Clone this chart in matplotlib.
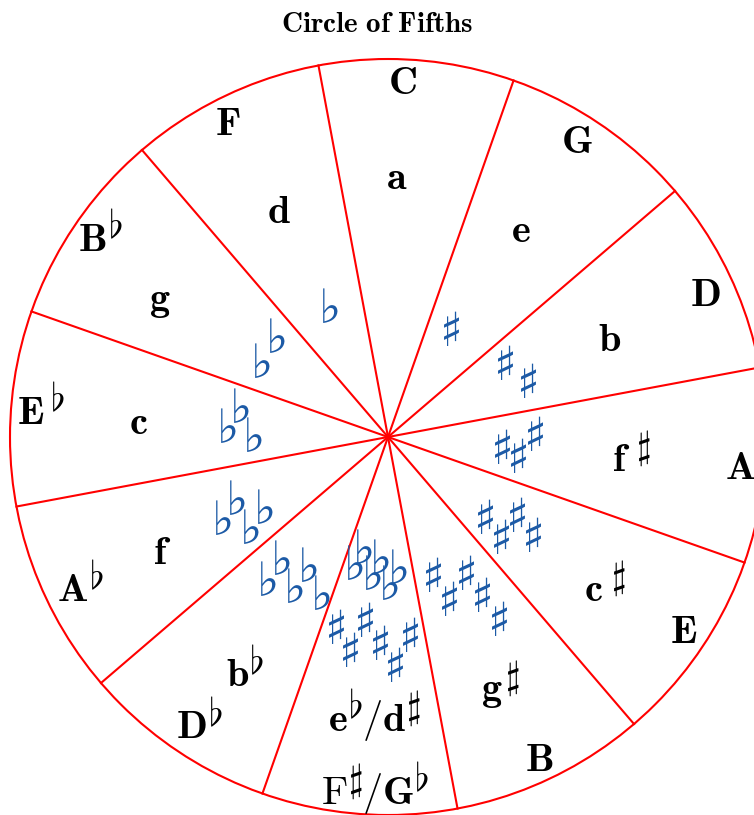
import numpy as np
import matplotlib
matplotlib.use('Agg')
import matplotlib.pyplot as plt
from matplotlib.patches import Circle

plt.rcParams['mathtext.fontset'] = 'cm'

# --- data ---
# each key name: list of (text, kind); kind 'n' = letter, 'a' = raised accidental
FL, SH = r'$\flat$', r'$\sharp$'
majors = [[(r'$\mathbf{C}$', 'n')], [(r'$\mathbf{G}$', 'n')], [(r'$\mathbf{D}$', 'n')],
          [(r'$\mathbf{A}$', 'n')], [(r'$\mathbf{E}$', 'n')], [(r'$\mathbf{B}$', 'n')],
          [(r'$\mathrm{F}$', 'n'), (SH, 'a'), (r'$\mathbf{/G}$', 'n'), (FL, 'a')],
          [(r'$\mathbf{D}$', 'n'), (FL, 'a')], [(r'$\mathbf{A}$', 'n'), (FL, 'a')],
          [(r'$\mathbf{E}$', 'n'), (FL, 'a')], [(r'$\mathbf{B}$', 'n'), (FL, 'a')],
          [(r'$\mathbf{F}$', 'n')]]
minors = [[(r'$\mathbf{a}$', 'n')], [(r'$\mathbf{e}$', 'n')], [(r'$\mathbf{b}$', 'n')],
          [(r'$\mathbf{f}$', 'n'), (SH, 'a')], [(r'$\mathbf{c}$', 'n'), (SH, 'a')],
          [(r'$\mathbf{g}$', 'n'), (SH, 'a')],
          [(r'$\mathbf{e}$', 'n'), (FL, 'a'), (r'$\mathbf{/d}$', 'n'), (SH, 'a')],
          [(r'$\mathbf{b}$', 'n'), (FL, 'a')], [(r'$\mathbf{f}$', 'n')],
          [(r'$\mathbf{c}$', 'n')], [(r'$\mathbf{g}$', 'n')], [(r'$\mathbf{d}$', 'n')]]
n_sharps = [0, 1, 2, 3, 4, 5, 6, 0, 0, 0, 0, 0]
n_flats = [0, 0, 0, 0, 0, 0, 6, 5, 4, 3, 2, 1]

# key-signature staff steps (order of sharps F C G D A E, flats B E A D G C)
sharp_steps = [0, -3, 1, -2, -5, -1]
flat_steps = [0, 3, -1, 2, -2, 1]

# --- layout (pixels) ---
W, H = 754, 815
cx, cy, R = 388, 437, 378
line_offset = 100.6

major_ang = [87.6, 57.3, 24.1, -5.0, -33.5, -64.9, -92.1, -123.0, -153.6, 176.0, 145.6, 117.1]
major_rad = [354, 350, 348, 354, 354, 357, 356, 346, 344, 348, 349, 352]
major_gap = [0, 0, 0, 0, 0, 0, 0, 1, 1, 6, 2, 0]
minor_ang = [88.0, 57.1, 23.6, -5.4, -35.2, -66.1, -92.8, -121.0, -152.8, 176.8, 149.0, 115.8]
minor_rad = [259, 245, 242, 244, 265, 277, 283, 278, 254, 250, 266, 250]
minor_gap = [0, 0, 0, 6, 8, 2, 0, 0, 0, 0, 0, 0]
raise_px = {r'$\flat$': 13, r'$\sharp$': 13}

# accidental rows: first glyph x, y, step dx, dy, staff step size
sharp_rows = {1: (451, 333, 0, 0, 7), 2: (505, 368, 23, -4, 7), 3: (502, 451, 16.5, -4, 4.5),
              4: (485, 522, 16, 2, 6), 5: (433, 580, 16.5, 2, 7), 6: (336, 632, 14.8, 0, 7.5)}
flat_rows = {6: (355, 567, 8.8, 2, 6), 7: (268, 583, 13.5, 0, 7), 8: (223, 522, 14, 1, 7),
             9: (228, 430, 13, 1, 7), 10: (262, 365, 15, -1, 8), 11: (330, 310, 0, 0, 7)}

blue = '#1c5aa6'
red = '#ff0000'

fig = plt.figure(figsize=(W / 100, H / 100), dpi=100)
ax = fig.add_axes([0, 0, 1, 1])
ax.set_xlim(0, W)
ax.set_ylim(H, 0)
ax.set_aspect('equal')
ax.axis('off')
renderer = fig.canvas.get_renderer()

ax.add_patch(Circle((cx, cy), R, fill=False, ec=red, lw=1.5))
for k in range(12):
    a = np.radians(line_offset - 30 * k)
    ax.plot([cx, cx + R * np.cos(a)], [cy, cy - R * np.sin(a)], color=red, lw=1.5)


def polar(ang, r):
    a = np.radians(ang)
    return cx + r * np.cos(a), cy - r * np.sin(a)


def draw_label(parts, ang, rad, gap):
    xc, yc = polar(ang, rad)
    arts = []
    for s, kind in parts:
        t = ax.text(0, 0, s, fontsize=29 if kind == 'n' else 27, ha='left', va='baseline')
        arts.append((t, kind, s))
    widths = [t.get_window_extent(renderer).width for t, _, _ in arts]
    bb = arts[0][0].get_window_extent(renderer)
    y0_disp = ax.transData.transform((0, 0))[1]
    mid = (bb.y0 + bb.y1) / 2 - y0_disp
    baseline = yc + mid
    gaps = [gap if kind == 'a' else 0 for _, kind, _ in arts]
    total = sum(widths) + sum(gaps)
    x = xc - total / 2
    for (t, kind, s), w, g in zip(arts, widths, gaps):
        x += g
        dy = raise_px[s] if kind == 'a' else 0
        t.set_position((x, baseline - dy))
        x += w


for i in range(12):
    draw_label(majors[i], major_ang[i], major_rad[i], major_gap[i])
    draw_label(minors[i], minor_ang[i], minor_rad[i], minor_gap[i])


def draw_row(n, row, steps, glyph, size):
    x0, y0, dx, dy, k = row
    for j in range(n):
        ax.text(x0 + j * dx, y0 + j * dy - k * steps[j], glyph, color=blue,
                fontsize=size, fontweight='bold', ha='center', va='center',
                family='DejaVu Sans')


for i in range(12):
    if n_sharps[i]:
        draw_row(n_sharps[i], sharp_rows[i], sharp_steps, '\u266f', 34)
    if n_flats[i]:
        draw_row(n_flats[i], flat_rows[i], flat_steps, '\u266d', 34)

fig.text(0.5, 1 - 24 / H, r'$\mathbf{Circle\ of\ Fifths}$', fontsize=21,
         ha='center', va='center')

fig.savefig('out.png', dpi=100)
